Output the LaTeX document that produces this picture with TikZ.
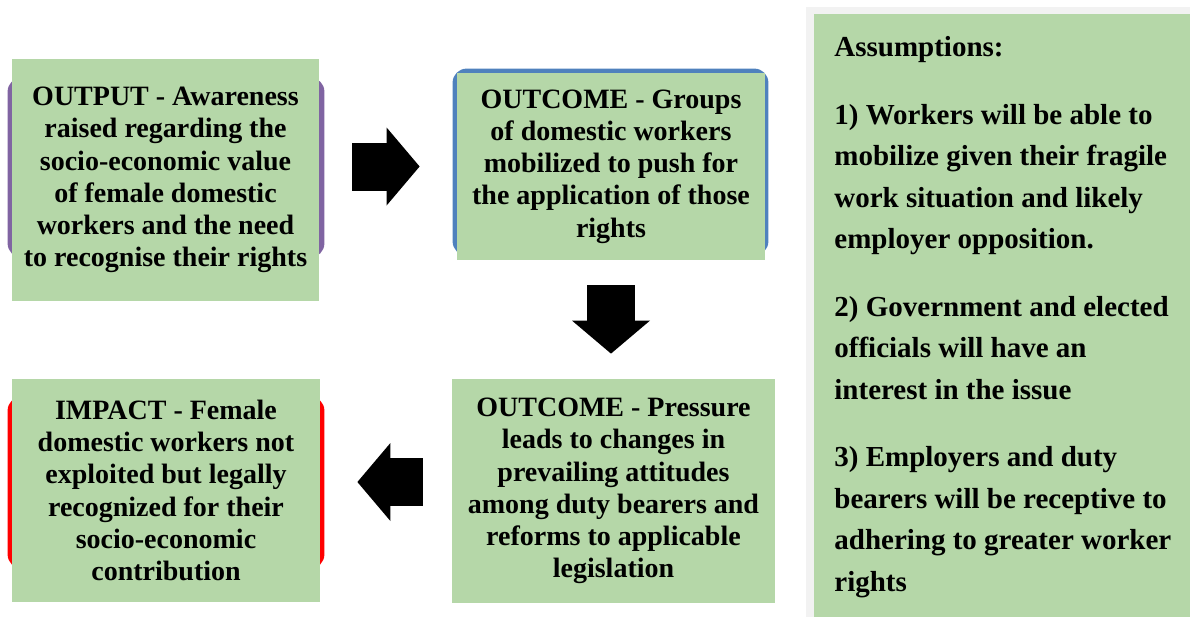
\documentclass[tikz,border=0pt]{standalone}
\usepackage{fontspec}
\setmainfont{Liberation Serif}
\usetikzlibrary{arrows.meta,backgrounds}
\definecolor{boxgreen}{RGB}{181,215,168}
\definecolor{outpurple}{RGB}{128,100,162}
\definecolor{outblue}{RGB}{79,129,189}
\definecolor{impred}{RGB}{255,0,0}
\definecolor{asmgray}{RGB}{242,242,242}

\begin{document}
\begin{tikzpicture}[x=0.5pt, y=-0.5pt,
  stagebox/.style={fill=boxgreen, inner sep=0pt, align=center,
    font=\bfseries\fontsize{14}{16.1}\selectfont},
  blockarrow/.style={line width=24pt,
    -{Triangle[length=16.5pt, width=39pt, line width=0pt]}},
  rim/.style={rounded corners=7pt}]
  \useasboundingbox (0,0) rectangle (1190,617);

  % stages
  \node[stagebox, minimum width=153.5pt, minimum height=121pt] (out) at (165.5,180)
    {OUTPUT - Awareness\\raised regarding the\\socio-economic value\\of female domestic\\workers and the need\\to recognise their rights};
  \node[stagebox, minimum width=154pt, minimum height=93.5pt] (grp) at (611,166.5)
    {OUTCOME - Groups\\of domestic workers\\mobilized to push for\\the application of those\\rights};
  \node[stagebox, minimum width=161.5pt, minimum height=112pt] (pres) at (613.5,491)
    {OUTCOME - Pressure\\leads to changes in\\prevailing attitudes\\among duty bearers and\\reforms to applicable\\legislation};
  \node[stagebox, minimum width=154pt, minimum height=111.5pt] (imp) at (166,490.5)
    {IMPACT - Female\\domestic workers not\\exploited but legally\\recognized for their\\socio-economic\\contribution};

  % coloured rims behind the stages
  \begin{scope}[on background layer]
    \fill[outpurple, rim] ([shift={(-4,19)}]out.north west) rectangle ([shift={(5,-44)}]out.south east);
    \fill[outblue, rim] ([shift={(-4,-4)}]grp.north west) rectangle ([shift={(3,-5)}]grp.south east);
    \fill[impred, rim] ([shift={(-4,18)}]imp.north west) rectangle ([shift={(4,-34)}]imp.south east);
  \end{scope}

  % assumptions
  \fill[asmgray] (806,7) rectangle (1190,617);
  \node[fill=boxgreen, anchor=north west, inner sep=0pt,
    minimum width=188pt, minimum height=301.5pt] (asm) at (814,14) {};
  \node[anchor=north west, align=left, inner sep=0pt,
    font=\bfseries\fontsize{14.5}{20.75}\selectfont] (asmtext) at ([shift={(20,22)}]asm.north west)
    {Assumptions:\\[13pt]
     1) Workers will be able to\\mobilize given their fragile\\work situation and likely\\employer opposition.\\[13pt]
     2) Government and elected\\officials will have an\\interest in the issue\\[13pt]
     3) Employers and duty\\bearers will be receptive to\\adhering to greater worker\\rights};

  % block arrows
  \coordinate (presl) at ([yshift=4.5pt]pres.west);
  \draw[blockarrow, shorten <=16.5pt, shorten >=18.5pt] (out.east |- grp.west) -- (grp.west);
  \draw[blockarrow, shorten <=12.5pt, shorten >=12.5pt] (grp.south) -- (grp.south |- pres.north);
  \draw[blockarrow, shorten <=14.5pt, shorten >=18.5pt] (presl) -- (presl -| imp.east);
\end{tikzpicture}
\end{document}
